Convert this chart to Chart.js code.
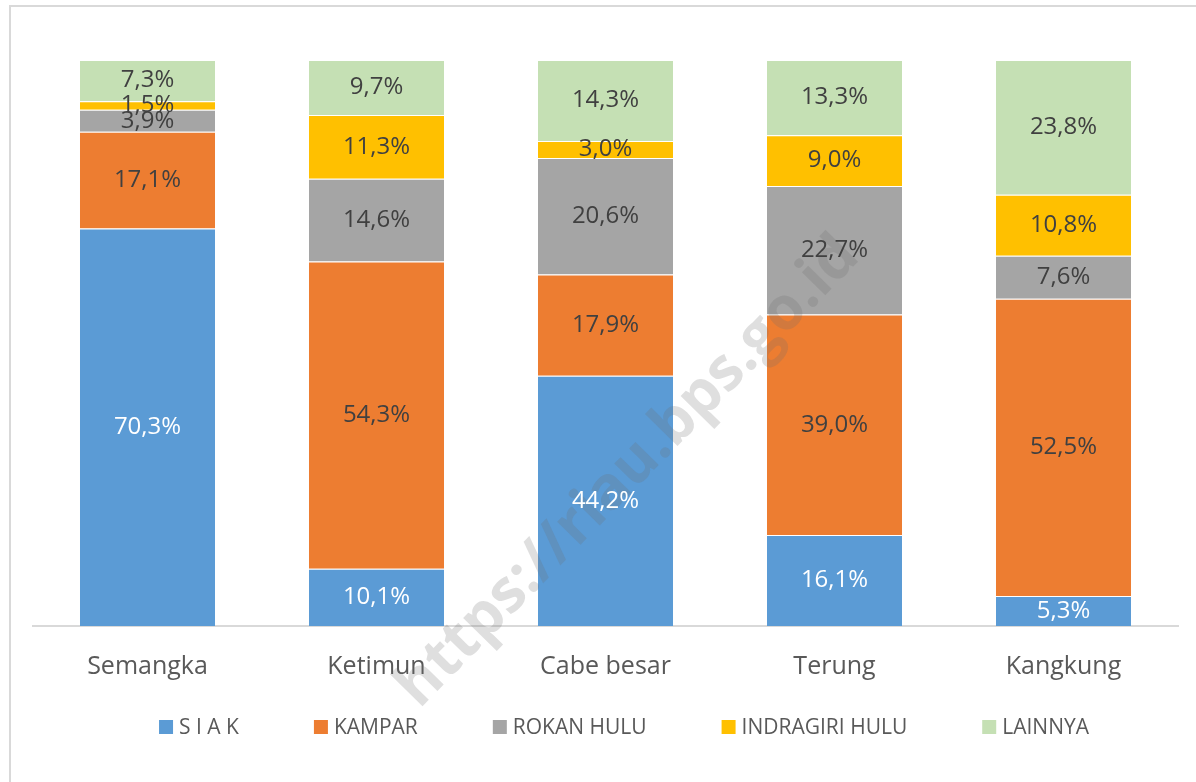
<!DOCTYPE html>
<html>
<head>
<meta charset="utf-8">
<script src="https://cdn.jsdelivr.net/npm/chart.js@4.4.1/dist/chart.umd.min.js"></script>
<style>
  html, body { margin: 0; padding: 0; background: #fff; }
  #wrap { width: 1196px; height: 782px; position: relative; }
</style>
</head>
<body>
<div id="wrap"><canvas id="chart" width="1196" height="782"></canvas></div>
<script>
'use strict';

// Kategori (komoditas)
const categories = ['Semangka', 'Ketimun', 'Cabe besar', 'Terung', 'Kangkung'];

// Persentase per kabupaten
const siak = [70.3, 10.1, 44.2, 16.1, 5.3];
const kampar = [17.1, 54.3, 17.9, 39.0, 52.5];
const rokanHulu = [3.9, 14.6, 20.6, 22.7, 7.6];
const indragiriHulu = [1.5, 11.3, 3.0, 9.0, 10.8];
const lainnya = [7.3, 9.7, 14.3, 13.3, 23.8];

const seriesNames = ['S I A K', 'KAMPAR', 'ROKAN HULU', 'INDRAGIRI HULU', 'LAINNYA'];
const seriesValues = [siak, kampar, rokanHulu, indragiriHulu, lainnya];
const seriesColors = ['#5B9BD5', '#ED7D31', '#A5A5A5', '#FFC000', '#C5E0B4'];

const FONT = "'Open Sans', 'Noto Sans', sans-serif";

// Total per kategori (100% bertumpuk seperti Excel)
const totals = categories.map((_, i) => seriesValues.reduce((s, arr) => s + arr[i], 0));

const datasets = seriesValues.map((vals, k) => ({
  label: seriesNames[k],
  data: vals.map((v, i) => (v / totals[i]) * 100),
  raw: vals,
  backgroundColor: seriesColors[k],
  borderColor: '#ffffff',
  borderWidth: { top: 1, bottom: 0, left: 0, right: 0 },
  borderSkipped: false,
  categoryPercentage: 1,
  barPercentage: 0.59,
}));

// Bingkai abu-abu
const framePlugin = {
  id: 'frame',
  beforeDraw(chart) {
    const ctx = chart.ctx;
    ctx.save();
    ctx.strokeStyle = '#d9d9d9';
    ctx.lineWidth = 2;
    ctx.strokeRect(10, 6, 1400, 1000);
    ctx.restore();
  },
};

// Watermark
const watermarkPlugin = {
  id: 'watermark',
  afterDatasetsDraw(chart) {
    const ctx = chart.ctx;
    ctx.save();
    ctx.translate(628, 472);
    ctx.rotate(-Math.PI / 4 - 0.01);
    ctx.font = `bold 60px ${FONT}`;
    ctx.fillStyle = 'rgba(110, 110, 110, 0.22)';
    ctx.textAlign = 'center';
    ctx.textBaseline = 'middle';
    ctx.fillText('https://riau.bps.go.id', 0, 0);
    ctx.restore();
  },
};

// Label data di tengah segmen
const labelPlugin = {
  id: 'segmentLabels',
  afterDraw(chart) {
    const ctx = chart.ctx;
    ctx.save();
    ctx.font = `24px ${FONT}`;
    ctx.textAlign = 'center';
    ctx.textBaseline = 'middle';
    chart.data.datasets.forEach((ds, k) => {
      const meta = chart.getDatasetMeta(k);
      meta.data.forEach((bar, i) => {
        const v = ds.raw[i];
        ctx.fillStyle = k === 0 ? '#ffffff' : '#404040';
        const y = (bar.y + bar.base) / 2;
        ctx.fillText(v.toFixed(1).replace('.', ',') + '%', bar.x, y);
      });
    });
    ctx.restore();
  },
};

// Legenda gaya Excel (kotak + teks, jarak rata)
const legendPlugin = {
  id: 'excelLegend',
  afterDraw(chart) {
    const ctx = chart.ctx;
    const box = 14, gap = 6, spacing = 75, cy = 727, center = 624;
    ctx.save();
    ctx.font = `21px ${FONT}`;
    ctx.textBaseline = 'middle';
    ctx.textAlign = 'left';
    const widths = chart.data.datasets.map(ds => ctx.measureText(ds.label).width);
    const total = widths.reduce((s, w) => s + box + gap + w, 0) + spacing * (widths.length - 1);
    let x = center - total / 2;
    chart.data.datasets.forEach((ds, k) => {
      ctx.fillStyle = ds.backgroundColor;
      ctx.fillRect(x, cy - box / 2, box, box);
      ctx.fillStyle = '#595959';
      ctx.fillText(ds.label, x + box + gap, cy + 1);
      x += box + gap + widths[k] + spacing;
    });
    ctx.restore();
  },
};

new Chart(document.getElementById('chart'), {
  type: 'bar',
  data: { labels: categories, datasets },
  options: {
    responsive: false,
    animation: false,
    layout: { padding: { top: 60, left: 33, right: 18, bottom: 82 } },
    plugins: {
      legend: { display: false },
      tooltip: { enabled: false },
    },
    scales: {
      x: {
        stacked: true,
        grid: { display: false },
        border: { display: true, color: '#d9d9d9', width: 2 },
        ticks: { color: '#595959', font: { family: FONT, size: 25 }, padding: 18 },
      },
      y: {
        stacked: true,
        display: false,
        min: 0,
        max: 100,
      },
    },
  },
  plugins: [framePlugin, watermarkPlugin, labelPlugin, legendPlugin],
});
</script>
</body>
</html>
